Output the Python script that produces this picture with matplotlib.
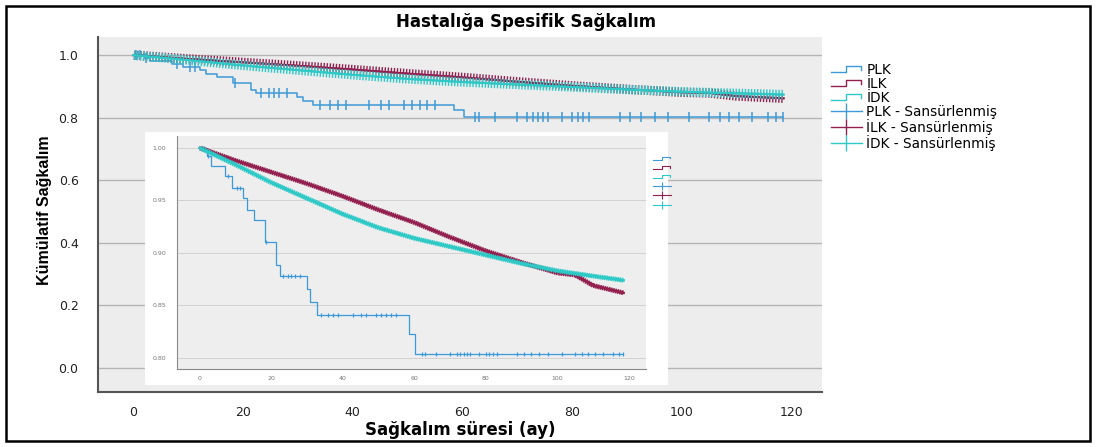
import numpy as np
import matplotlib.pyplot as plt
import matplotlib.patheffects as pe
from matplotlib.lines import Line2D
from matplotlib.patches import Rectangle
from matplotlib.legend_handler import HandlerBase

plt.rcParams['font.family'] = ['DejaVu Sans']

# PLK: Kaplan-Meier step function (time of event, survival after event)
plk_t = [0, 2.1, 3.0, 7.1, 9.0, 12.2, 13.3, 15.2, 18.2, 21.4, 22.3, 29.9, 30.9, 32.8, 58.4, 60.3, 118.4]
plk_s = [1.0, 0.992, 0.9825, 0.973, 0.962, 0.952, 0.941, 0.9315, 0.910, 0.8885, 0.878,
         0.866, 0.8535, 0.841, 0.8233, 0.8035, 0.8035]
# PLK censored times
plk_cens = [0.5, 1.2, 2.4, 8.0, 10.4, 11.2, 18.5, 23.3, 24.7, 25.6, 26.6, 28.0,
            34.0, 35.9, 37.3, 38.7, 42.9, 45.2, 46.6, 49.4, 50.8, 52.2, 53.6, 55.0,
            62.2, 63.1, 66.0, 69.9, 71.8, 72.8, 73.8, 74.7, 75.6, 78.1, 80.0, 81.0, 82.0, 83.0,
            88.7, 90.6, 92.6, 95.0, 97.4, 101.2, 105.0, 107.0, 108.5, 110.4, 112.8, 115.7, 117.2, 118.4]

# ILK and IDK (large groups, nearly continuous curves)
ilk_t = [0, 10, 20, 30, 40, 50, 60, 70, 80, 90, 100, 105, 110, 118.5]
ilk_s = [1.0, 0.988, 0.977, 0.966, 0.954, 0.941, 0.929, 0.915, 0.902, 0.891, 0.881, 0.879, 0.869, 0.862]
idk_t = [0, 5, 10, 20, 30, 40, 50, 60, 70, 80, 90, 100, 110, 118.5]
idk_s = [1.0, 0.992, 0.984, 0.967, 0.952, 0.937, 0.924, 0.914, 0.906, 0.898, 0.890, 0.883, 0.878, 0.874]

names = ['PLK', 'İLK', 'İDK']
colors = ['#3d9ad8', '#931f4f', '#2cc9c6']
legend_labels = ['PLK', 'İLK', 'İDK', 'PLK - Sansürlenmiş', 'İLK - Sansürlenmiş', 'İDK - Sansürlenmiş']


def censor_y(times):
    idx = np.searchsorted(plk_t, times, side='right') - 1
    return np.array(plk_s)[idx]


def draw_curves(ax, lw, tick_len, spacing, msize, plk_lw):
    ax.step(plk_t, plk_s, where='post', color=colors[0], lw=plk_lw, zorder=3)
    ax.plot(plk_cens, censor_y(plk_cens), ls='none', marker='|', ms=msize,
            mew=plk_lw, color=colors[0], zorder=3)
    for t, s, c, z in [(ilk_t, ilk_s, colors[1], 4), (idk_t, idk_s, colors[2], 5)]:
        ax.plot(t, s, color=c, lw=lw, zorder=z,
                path_effects=[pe.withTickedStroke(angle=90, spacing=spacing, length=tick_len, linewidth=lw * 0.7),
                              pe.withTickedStroke(angle=-90, spacing=spacing, length=tick_len, linewidth=lw * 0.7)])


class StepHandler(HandlerBase):
    def create_artists(self, legend, orig_handle, xdescent, ydescent, width, height, fontsize, trans):
        xs = np.array([0.0, 0.5, 0.5, 0.95, 0.95]) * width - xdescent
        ys = np.array([0.2, 0.2, 0.8, 0.8, 0.45]) * height - ydescent
        ln = Line2D(xs, ys, color=orig_handle.get_color(), lw=orig_handle.get_linewidth(), transform=trans)
        return [ln]


def legend_handles(lw, ms):
    steps = [Line2D([], [], color=c, lw=lw) for c in colors]
    cens = [Line2D([0], [0], color=c, lw=lw, marker='|', ms=ms, mew=lw) for c in colors]
    return steps + cens, {h: StepHandler() for h in steps}


fig = plt.figure(figsize=(10.97, 4.47), dpi=100)
W, H = 1097, 447

# main axes
ax = fig.add_axes([98 / W, 1 - 392 / H, 724 / W, 355 / H])
ax.set_facecolor('#ededed')
draw_curves(ax, 1.4, 1.3, 2.2, 7, 1.1)
ax.set_xlim(-6.4, 125.5)
ax.set_ylim(-0.077, 1.058)
ax.set_xticks([0, 20, 40, 60, 80, 100, 120])
ax.set_yticks([0.0, 0.2, 0.4, 0.6, 0.8, 1.0])
ax.set_yticklabels(['0.0', '0.2', '0.4', '0.6', '0.8', '1.0'])
ax.tick_params(length=0, labelsize=9, colors='#222222')
ax.tick_params(axis='y', pad=14)
ax.tick_params(axis='x', pad=10)
ax.grid(axis='y', color='#b5b5b5', lw=1)
ax.set_axisbelow(True)
for sp in ['top', 'right']:
    ax.spines[sp].set_visible(False)
for sp in ['left', 'bottom']:
    ax.spines[sp].set_color('#555555')
    ax.spines[sp].set_linewidth(1.5)

fig.text(526 / W, 1 - 22 / H, 'Hastalığa Spesifik Sağkalım', ha='center', va='center',
         fontsize=12, fontweight='bold')
fig.text(460 / W, 1 - 430 / H, 'Sağkalım süresi (ay)', ha='center', va='center',
         fontsize=12, fontweight='bold')
fig.text(45 / W, 1 - 210 / H, 'Kümülatif Sağkalım', ha='center', va='center', rotation=90,
         fontsize=11.5, fontweight='bold', family=['Liberation Sans', 'DejaVu Sans'])

handles, hmap = legend_handles(1.0, 11)
fig.legend(handles, legend_labels, handler_map=hmap, loc='upper left',
           bbox_to_anchor=(824 / W, 1 - 56 / H), frameon=False, fontsize=9.8,
           handlelength=2.3, handletextpad=0.3, labelspacing=0.0, borderpad=0)

# inset (zoomed view 0.80 - 1.00)
fig.patches.append(Rectangle((145 / W, 1 - 385 / H), 523 / W, 253 / H, transform=fig.transFigure,
                             facecolor='white', edgecolor='none', zorder=1.5))
ins = fig.add_axes([177 / W, 1 - 369 / H, 469 / W, 233 / H])
ins.set_zorder(2)
ins.set_facecolor('#eeeeee')
draw_curves(ins, 1.7, 0.7, 1.6, 3, 0.9)
ins.set_xlim(-6.4, 124.8)
ins.set_ylim(0.7895, 1.0114)
ins.set_xticks([0, 20, 40, 60, 80, 100, 120])
ins.set_yticks([0.80, 0.85, 0.90, 0.95, 1.00])
ins.set_yticklabels(['0.80', '0.85', '0.90', '0.95', '1.00'])
ins.tick_params(length=0, labelsize=4.5, colors='#777777')
ins.tick_params(axis='y', pad=8)
ins.tick_params(axis='x', pad=5)
ins.grid(axis='y', color='#d2d2d2', lw=0.7)
ins.set_axisbelow(True)
for sp in ['top', 'right']:
    ins.spines[sp].set_visible(False)
for sp in ['left', 'bottom']:
    ins.spines[sp].set_color('#888888')
    ins.spines[sp].set_linewidth(0.8)

h2, hmap2 = legend_handles(0.8, 6)
ins.legend(h2, [''] * 6, handler_map=hmap2, loc='upper left',
           bbox_to_anchor=(649 / W, 1 - 152 / H), bbox_transform=fig.transFigure,
           frameon=False, fontsize=5.2, handlelength=2.6, handletextpad=0,
           labelspacing=0.45, borderpad=0)

# outer frame
fig.patches.append(Rectangle((6 / W, 6 / H), 1084 / W, 435 / H, transform=fig.transFigure,
                             fill=False, edgecolor='black', lw=1.8, zorder=3))

fig.savefig('out.png', dpi=100)
